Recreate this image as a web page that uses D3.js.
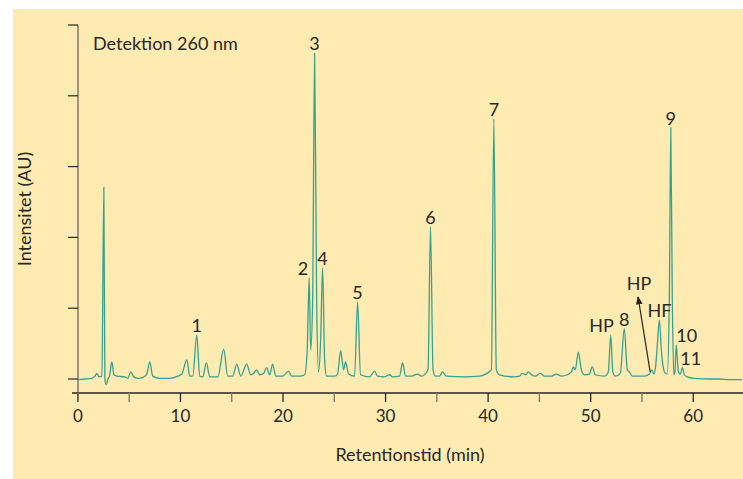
<!DOCTYPE html>
<html>
<head>
<meta charset="utf-8">
<script src="https://cdn.jsdelivr.net/npm/d3@7"></script>
<style>
  html, body { margin: 0; padding: 0; background: #fff; }
  svg { display: block; font-family: Lato, sans-serif; }
</style>
</head>
<body>
<svg class="chart" width="743" height="479"></svg>
<script>
// retention time (min) and detector signal (mAU)
const time = [
  0.00, 0.68, 1.36, 1.66, 1.85, 2.05, 2.34, 2.53, 2.63, 2.78, 2.92, 3.07, 3.31, 3.51, 3.80,
  4.58, 4.87, 5.16, 5.45, 5.94, 6.53, 6.72, 7.01, 7.30, 7.99, 8.96, 9.74, 10.13, 10.62, 10.91,
  11.20, 11.59, 11.88, 12.18, 12.52, 12.86, 13.64, 14.22, 14.61, 15.10, 15.49, 15.88, 16.46, 16.85,
  17.14, 17.43, 17.73, 18.12, 18.41, 18.70, 18.99, 19.29, 19.97, 20.55, 20.84, 21.62, 22.11, 22.36,
  22.55, 22.70, 22.89, 23.08, 23.28, 23.47, 23.67, 23.86, 24.06, 24.25, 25.03, 25.32, 25.62, 25.91,
  26.10, 26.40, 26.98, 27.27, 27.56, 28.44, 28.93, 29.22, 29.90, 30.39, 30.68, 31.36, 31.66, 31.95,
  32.53, 33.12, 33.50, 34.14, 34.38, 34.63, 34.87, 35.26, 35.55, 35.94, 37.69, 39.15, 40.32, 40.56,
  40.80, 41.10, 42.56, 43.05, 43.34, 43.64, 43.93, 44.22, 44.61, 45.10, 45.49, 46.17, 46.65, 47.14,
  47.73, 48.12, 48.31, 48.50, 48.80, 49.09, 49.38, 49.87, 50.16, 50.45, 51.33, 51.72, 51.96, 52.16,
  52.40, 52.89, 53.28, 53.57, 53.77, 54.06, 55.23, 55.72, 55.96, 56.16, 56.35, 56.50, 56.70, 56.89,
  57.08, 57.28, 57.47, 57.67, 57.81, 57.96, 58.11, 58.21, 58.35, 58.55, 58.74, 58.94, 59.13, 59.42,
  60.10, 61.56, 62.53, 63.51, 64.77
];
const signal = [
  -1, 0, 1, 4, 8, 3, 4, 271, -1, -8, 0, 3, 24, 6, 4,
  3, 1, 10, 3, 1, 4, 7, 24, 4, 1, 1, 4, 7, 27, 4,
  4, 62, 4, 3, 23, 3, 3, 42, 4, 4, 21, 4, 21, 6,
  8, 13, 6, 8, 16, 6, 21, 4, 4, 11, 4, 4, 6, 41,
  143, 41, 112, 460, 112, 10, 55, 157, 27, 4, 4, 7, 40, 13,
  24, 7, 4, 109, 6, 3, 11, 4, 3, 6, 3, 4, 23, 4,
  4, 7, 4, 13, 215, 13, 4, 4, 10, 4, 3, 4, 13, 367,
  13, 6, 3, 4, 8, 6, 10, 6, 4, 8, 4, 4, 7, 4,
  6, 10, 17, 13, 38, 13, 6, 7, 17, 6, 4, 10, 62, 10,
  4, 8, 71, 13, 10, 4, 4, 7, 13, 7, 20, 48, 83, 41,
  16, 8, 7, 112, 355, 112, 6, 10, 48, 10, 7, 16, 6, 3,
  1, 0, 0, -1, -1
];

// peak labels: text, apex time, apex signal
const peakNames = ['1', '2', '3', '4', '5', '6', '7', 'HP', '8', 'HF', '9', '10', '11'];
const peakTimes = [11.59, 22.55, 23.08, 23.86, 27.27, 34.38, 40.56, 51.96, 53.28, 56.70, 57.81, 58.35, 58.94];
const peakHeights = [62, 143, 460, 157, 109, 215, 367, 62, 71, 83, 355, 48, 16];

const xTicks = [0, 10, 20, 30, 40, 50, 60];
const xMinorTicks = [0, 5, 10, 15, 20, 25, 30, 35, 40, 45, 50, 55, 60, 65];
const yTicks = [0, 100, 200, 300, 400, 500];

const WIDTH = 743,
      HEIGHT = 479,
      LINE = '#35a290',
      INK = '#2a2622',
      FONT = 18;

const svg = d3.select('.chart');

// yellow panel
svg.append('rect')
    .attr('x', 13).attr('y', 9)
    .attr('width', WIDTH - 13).attr('height', HEIGHT - 9)
    .attr('fill', '#fdebb2');

const x = d3.scaleLinear().domain([0, 65]).range([77.9, 744.5]);
const y = d3.scaleLinear().domain([0, 500]).range([379, 25]);

// x axis
const xAxisY = 393;
const gx = svg.append('g').attr('transform', `translate(0,${xAxisY})`);
gx.append('line')
    .attr('x1', 72).attr('x2', WIDTH)
    .attr('stroke', INK).attr('stroke-width', 1.3);
gx.selectAll('.tick')
    .data(xMinorTicks)
    .enter().append('line')
    .attr('x1', d => x(d)).attr('x2', d => x(d))
    .attr('y1', 0).attr('y2', 9)
    .attr('stroke', d => d % 10 === 0 ? INK : '#7a7266')
    .attr('stroke-width', 1.3);
gx.selectAll('text')
    .data(xTicks)
    .enter().append('text')
    .attr('x', d => x(d))
    .attr('y', 29)
    .attr('text-anchor', 'middle')
    .attr('font-size', 17)
    .attr('fill', INK)
    .text(d => d);

// y axis (no labels, just ticks)
const gy = svg.append('g');
gy.append('line')
    .attr('x1', 78).attr('x2', 78)
    .attr('y1', 25).attr('y2', 400)
    .attr('stroke', '#6f675c').attr('stroke-width', 1.3);
gy.selectAll('.tick')
    .data(yTicks)
    .enter().append('line')
    .attr('x1', 68).attr('x2', 78)
    .attr('y1', d => y(d)).attr('y2', d => y(d))
    .attr('stroke', INK).attr('stroke-width', 1.2);

// axis titles
svg.append('text')
    .attr('x', 410).attr('y', 461)
    .attr('text-anchor', 'middle')
    .attr('font-size', FONT)
    .attr('fill', INK)
    .text('Retentionstid (min)');

svg.append('text')
    .attr('transform', 'translate(31,209) rotate(-90)')
    .attr('text-anchor', 'middle')
    .attr('font-size', FONT)
    .attr('fill', INK)
    .text('Intensitet (AU)');

svg.append('text')
    .attr('x', 93).attr('y', 50)
    .attr('font-size', FONT)
    .attr('fill', INK)
    .text('Detektion 260 nm');

// the trace
const line = d3.line()
    .x(i => x(time[i]))
    .y(i => y(signal[i]))
    .curve(d3.curveMonotoneX);

svg.append('path')
    .datum(d3.range(time.length))
    .attr('d', line)
    .attr('fill', 'none')
    .attr('stroke', LINE)
    .attr('stroke-width', 1.3)
    .attr('stroke-linejoin', 'round');

// peak labels, most sit straight above the apex
const anchors = { '2': 'end', 'HP': 'end', '10': 'start', '11': 'start' };
const nudge = { '2': -1, 'HP': 3, '10': 0, '11': -2 };

svg.append('g')
    .selectAll('text')
    .data(peakNames)
    .enter().append('text')
    .attr('x', (d, i) => x(peakTimes[i]) + (nudge[d] || 0))
    .attr('y', (d, i) => y(peakHeights[i]) - 3)
    .attr('text-anchor', d => anchors[d] || 'middle')
    .attr('font-size', FONT)
    .attr('fill', INK)
    .text(d => d);

// arrow pointing at the small HP peak before peak 9
const arrowFrom = [55.8, 10],
      arrowTo = [54.62, 116];

svg.append('defs').append('marker')
    .attr('id', 'head')
    .attr('viewBox', '0 0 10 10')
    .attr('refX', 9).attr('refY', 5)
    .attr('markerWidth', 7).attr('markerHeight', 7)
    .attr('orient', 'auto')
  .append('path')
    .attr('d', 'M0,1 L10,5 L0,9 Z')
    .attr('fill', INK);

svg.append('line')
    .attr('x1', x(arrowFrom[0])).attr('y1', y(arrowFrom[1]))
    .attr('x2', x(arrowTo[0])).attr('y2', y(arrowTo[1]))
    .attr('stroke', INK)
    .attr('stroke-width', 1.2)
    .attr('marker-end', 'url(#head)');

svg.append('text')
    .attr('x', x(54.72)).attr('y', y(126))
    .attr('text-anchor', 'middle')
    .attr('font-size', FONT)
    .attr('fill', INK)
    .text('HP');
</script>
</body>
</html>
